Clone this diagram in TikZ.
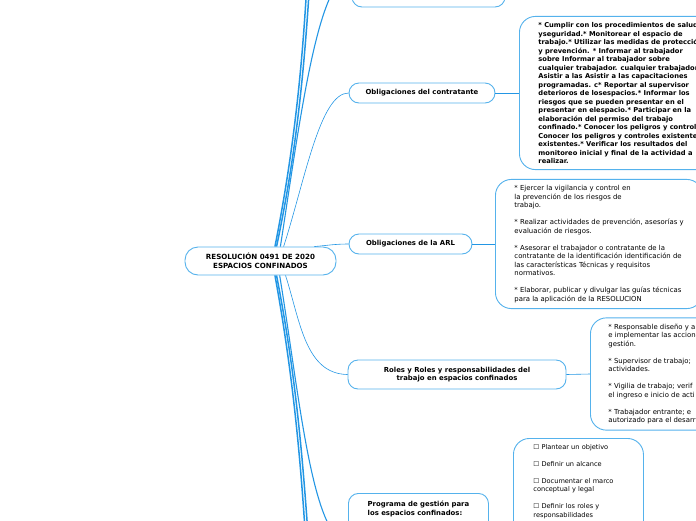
\documentclass[tikz,border=0pt]{standalone}
\usepackage{fontspec}
\setmainfont{DejaVu Sans}
\usepackage{xcolor}
\usetikzlibrary{shapes,calc,positioning}

\definecolor{mapline}{RGB}{35,150,228}
\definecolor{mapedge}{RGB}{85,178,236}

\begin{document}
\begin{tikzpicture}[x=1pt, y=-1pt,
  topic/.style={rectangle, draw=mapedge, fill=white, line width=0.9pt, rounded corners=10pt, font=\fontsize{6.9}{8.2}\selectfont\bfseries, align=center, inner sep=2pt},
  central/.style={topic, rounded corners=13pt, font=\fontsize{7.1}{9}\selectfont\bfseries},
  detail/.style={rectangle, draw=mapedge, fill=white, line width=0.9pt, rounded corners=16pt, align=left, font=\fontsize{6.9}{8.5}\selectfont, inner ysep=6pt},
  trunk/.style={draw=mapline, line width=1.5pt},
  limb/.style={draw=mapline, line width=1.1pt},
  branch/.style={draw=mapline, line width=0.6pt}
]
\useasboundingbox (0,0) rectangle (696,520);

% main topics
\node[central, minimum width=151pt, minimum height=28pt] (root) at (260.5,261) {RESOLUCIÓN 0491 DE 2020\\ESPACIOS CONFINADOS};
\node[topic, minimum width=153pt, minimum height=64pt] (upper) at (428.5,-25) {};
\node[topic, minimum width=146pt, minimum height=20pt] (contratante) at (422,93) {Obligaciones del contratante};
\node[topic, minimum width=123pt, minimum height=20pt] (arl) at (410.5,244) {Obligaciones de la ARL};
\node[topic, minimum width=218pt, minimum height=29pt] (roles) at (457,374.5) {Roles y Roles y responsabilidades del\\trabajo en espacios confinados};
\node[topic, anchor=north west, align=left, minimum width=140pt, inner ysep=8pt, text depth=70pt] (programa) at (348,493) {Programa de gestión para\\los espacios confinados:};

% off-page topics
\coordinate (farup1) at (309,-60);
\coordinate (farup2) at (312,-60);
\coordinate (fardown1) at (308,580);
\coordinate (fardown2) at (311,580);

% details
\node[detail, anchor=west, inner xsep=19pt, font=\fontsize{6.7}{8.5}\selectfont\bfseries] (contratanteinfo) at (519,93) {%
* Cumplir con los procedimientos de salud\\
yseguridad.* Monitorear el espacio de\\
trabajo.* Utilizar las medidas de protección\\
y prevención. * Informar al trabajador\\
sobre Informar al trabajador sobre\\
cualquier trabajador. cualquier trabajador.\\
Asistir a las Asistir a las capacitaciones\\
programadas. c* Reportar al supervisor\\
deterioros de losespacios.* Informar los\\
riesgos que se pueden presentar en el\\
presentar en elespacio.* Participar en la\\
elaboración del permiso del trabajo\\
confinado.* Conocer los peligros y control\\
Conocer los peligros y controles existentes\\
existentes.* Verificar los resultados del\\
monitoreo inicial y final de la actividad a\\
realizar.};

\node[detail, anchor=west, inner xsep=19pt] (arlinfo) at (495,244) {%
* Ejercer la vigilancia y control en\\
la prevención de los riesgos de\\
trabajo.\\[8.5pt]
* Realizar actividades de prevención, asesorías y\\
evaluación de riesgos.\\[8.5pt]
* Asesorar el trabajador o contratante de la\\
contratante de la identificación identificación de\\
las características Técnicas y requisitos\\
normativos.\\[8.5pt]
* Elaborar, publicar y divulgar las guías técnicas\\
para la aplicación de la RESOLUCION};

\node[detail, anchor=west, inner xsep=18pt] (rolesinfo) at (590,374) {%
* Responsable diseño y a\\
e implementar las acciones\\
gestión.\\[8.5pt]
* Supervisor de trabajo;\\
actividades.\\[8.5pt]
* Vigilia de trabajo; verif\\
el ingreso e inicio de acti\\[8.5pt]
* Trabajador entrante; e\\
autorizado para el desarr};

\node[detail, anchor=north west, text width=90pt, inner xsep=20pt, text depth=175pt, font=\fontsize{6.6}{8.5}\selectfont] (programainfo) at (513,438) {%
☐ Plantear un objetivo\\[8.5pt]
☐ Definir un alcance\\[8.5pt]
☐ Documentar el marco\\
conceptual y legal\\[8.5pt]
☐ Definir los roles y\\
responsabilidades};

% connectors
\draw[trunk] (root.45) .. controls (294,150) and (304,60) .. (farup1);
\draw[trunk] (root.42) .. controls (297,150) and (306,60) .. (farup2);
\draw[limb] (root.36) .. controls (300,120) and (318,-25) .. (upper.west);
\draw[branch] (root.32) .. controls (305,180) and (320,93) .. (contratante.west);
\draw[branch] (root.15) to[out=5, in=180] (arl.west);
\draw[branch] (root.-30) .. controls (300,320) and (305,374) .. (roles.west);
\draw[limb] (root.-37) .. controls (300,400) and (312,538) .. (programa.west);
\draw[trunk] (root.-45) .. controls (294,380) and (302,470) .. (fardown1);
\draw[trunk] (root.-42) .. controls (297,380) and (304,470) .. (fardown2);

\draw[branch] (contratante.east) -- (contratanteinfo.west);
\draw[branch] (arl.east) -- (arlinfo.west);
\draw[branch] (roles.east) -- (rolesinfo.west);
\draw[branch] (programa.east) -- (programainfo.west);

\end{tikzpicture}
\end{document}
